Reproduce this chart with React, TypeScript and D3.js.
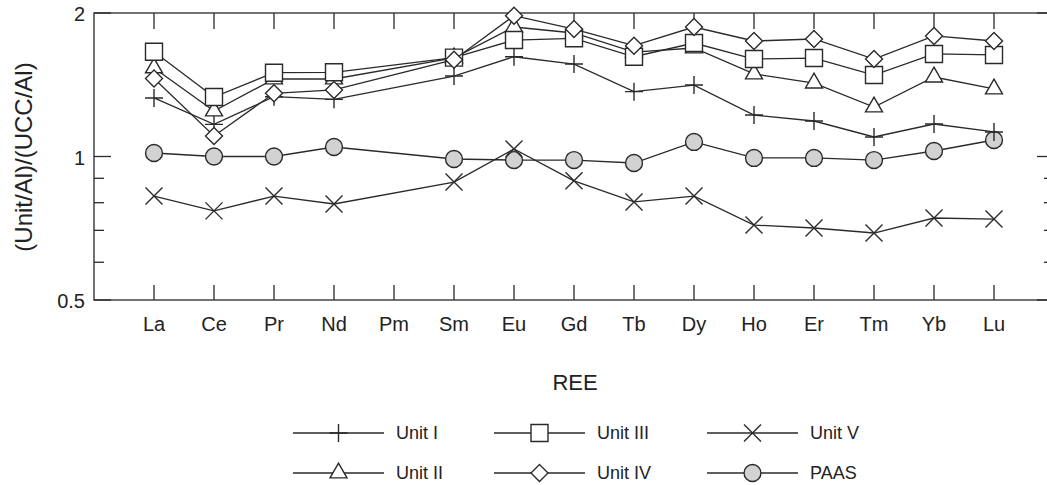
import { useEffect, useRef } from "react";
import * as d3 from "d3";

const W = 1047;
const H = 485;

const ree = ["La", "Ce", "Pr", "Nd", "Pm", "Sm", "Eu", "Gd", "Tb", "Dy", "Ho", "Er", "Tm", "Yb", "Lu"];

// Pm has no value in any series
const unitI = [1.327, 1.168, 1.335, 1.318, null, 1.475, 1.619, 1.563, 1.368, 1.412, 1.222, 1.187, 1.099, 1.17, 1.126];
const unitII = [1.534, 1.246, 1.454, 1.454, null, 1.61, 1.869, 1.816, 1.656, 1.689, 1.49, 1.426, 1.27, 1.468, 1.386];
const unitIII = [1.659, 1.333, 1.499, 1.502, null, 1.612, 1.755, 1.77, 1.619, 1.73, 1.601, 1.609, 1.482, 1.641, 1.633];
const unitIV = [1.458, 1.104, 1.357, 1.379, null, 1.596, 1.974, 1.851, 1.708, 1.869, 1.747, 1.764, 1.601, 1.79, 1.747];
const unitV = [0.826, 0.769, 0.826, 0.795, null, 0.884, 1.037, 0.889, 0.803, 0.826, 0.718, 0.708, 0.691, 0.743, 0.739];
const paas = [1.017, 1.0, 1.0, 1.047, null, 0.988, 0.983, 0.983, 0.969, 1.073, 0.993, 0.993, 0.983, 1.027, 1.083];

const yMajor = [0.5, 1, 2];
const yMinor = [0.6, 0.7, 0.8, 0.9];

const INK = "#2a2a2a";

// marker shapes as path strings
const markers = {
  plus: { d: "M-9,0H9M0,-9V9", fill: "none" },
  triangle: { d: d3.symbol(d3.symbolTriangle, 125)(), fill: "#fff" },
  square: { d: "M-8.5,-8.5H8.5V8.5H-8.5Z", fill: "#fff" },
  diamond: { d: "M0,-8.5L8.5,0L0,8.5L-8.5,0Z", fill: "#fff" },
  times: { d: "M-8.5,-8.5L8.5,8.5M-8.5,8.5L8.5,-8.5", fill: "none" },
  circle: { d: d3.symbol(d3.symbolCircle, 225)(), fill: "#d2d2d2" },
};

const series = [
  { name: "PAAS", values: paas, marker: "circle" },
  { name: "Unit I", values: unitI, marker: "plus" },
  { name: "Unit II", values: unitII, marker: "triangle" },
  { name: "Unit III", values: unitIII, marker: "square" },
  { name: "Unit IV", values: unitIV, marker: "diamond" },
  { name: "Unit V", values: unitV, marker: "times" },
];

// legend laid out in 3 columns x 2 rows, as in the figure
const legendOrder = [
  ["Unit I", "Unit II"],
  ["Unit III", "Unit IV"],
  ["Unit V", "PAAS"],
];

const App = () => {
  const svgRef = useRef();

  useEffect(() => {
    const svg = d3.select(svgRef.current);
    svg.selectAll("*").remove();

    const left = 94, right = 1054, top = 13, bottom = 300;
    const x = d3.scalePoint().domain(ree).range([left, right]).padding(1);
    const y = d3.scaleLog().domain([0.5, 2]).range([bottom, top]);

    const font = "'Liberation Sans', Arial, Helvetica, sans-serif";
    const g = svg.append("g");

    // frame
    g.append("rect")
      .attr("x", left).attr("y", top)
      .attr("width", right - left).attr("height", bottom - top)
      .attr("fill", "none").attr("stroke", "#444").attr("stroke-width", 1.5);

    // x ticks, top and bottom, pointing inward
    ree.forEach((c) => {
      const cx = x(c);
      g.append("line").attr("x1", cx).attr("x2", cx).attr("y1", top).attr("y2", top + 16)
        .attr("stroke", INK).attr("stroke-width", 1.3);
      g.append("line").attr("x1", cx).attr("x2", cx).attr("y1", bottom).attr("y2", bottom - 15)
        .attr("stroke", INK).attr("stroke-width", 1.3);
      g.append("text").attr("x", cx).attr("y", 331)
        .attr("text-anchor", "middle").attr("font-family", font).attr("font-size", 20)
        .attr("fill", "#222").text(c);
    });

    // y ticks, both sides
    const yTick = (v, len) => {
      g.append("line").attr("x1", left).attr("x2", left + len).attr("y1", y(v)).attr("y2", y(v))
        .attr("stroke", INK).attr("stroke-width", 1.3);
      g.append("line").attr("x1", right).attr("x2", right - len).attr("y1", y(v)).attr("y2", y(v))
        .attr("stroke", INK).attr("stroke-width", 1.3);
    };
    yMajor.forEach((v) => {
      yTick(v, 17);
      g.append("text").attr("x", 85).attr("y", y(v)).attr("dy", "0.42em")
        .attr("text-anchor", "end").attr("font-family", font).attr("font-size", 20)
        .attr("fill", "#222").text(String(v));
    });
    yMinor.forEach((v) => yTick(v, 10));

    // axis titles
    g.append("text").attr("x", 575).attr("y", 390)
      .attr("text-anchor", "middle").attr("font-family", font).attr("font-size", 22)
      .attr("fill", "#222").text("REE");
    g.append("text").attr("transform", "translate(32,157) rotate(-90)")
      .attr("text-anchor", "middle").attr("font-family", font).attr("font-size", 24)
      .attr("fill", "#222").text("(Unit/Al)/(UCC/Al)");

    const line = d3.line()
      .defined((d) => d.v != null)
      .x((d) => x(d.c))
      .y((d) => y(d.v));

    series.forEach((s) => {
      const pts = s.values.map((v, i) => ({ c: ree[i], v })).filter((d) => d.v != null);
      const m = markers[s.marker];
      g.append("path").attr("d", line(pts))
        .attr("fill", "none").attr("stroke", INK).attr("stroke-width", 1.3);
      g.selectAll(null).data(pts).join("path")
        .attr("d", m.d)
        .attr("transform", (d) => `translate(${x(d.c)},${y(d.v)})`)
        .attr("fill", m.fill).attr("stroke", INK).attr("stroke-width", 1.4);
    });

    // legend
    const colX = [293, 494, 707];
    const rowY = [433, 473];
    legendOrder.forEach((col, ci) => {
      col.forEach((name, ri) => {
        const s = series.find((d) => d.name === name);
        const m = markers[s.marker];
        const lx = colX[ci], ly = rowY[ri];
        g.append("line").attr("x1", lx).attr("x2", lx + 91).attr("y1", ly).attr("y2", ly)
          .attr("stroke", INK).attr("stroke-width", 1.3);
        g.append("path").attr("d", m.d).attr("transform", `translate(${lx + 45.5},${ly})`)
          .attr("fill", m.fill).attr("stroke", INK).attr("stroke-width", 1.4);
        g.append("text").attr("x", lx + 103).attr("y", ly).attr("dy", "0.36em")
          .attr("font-family", font).attr("font-size", 18).attr("fill", "#222").text(name);
      });
    });
  }, []);

  return (
    <svg
      ref={svgRef}
      width={W}
      height={H}
      style={{ position: "absolute", left: 0, top: 0, background: "#fff" }}
    />
  );
};

export default App;
